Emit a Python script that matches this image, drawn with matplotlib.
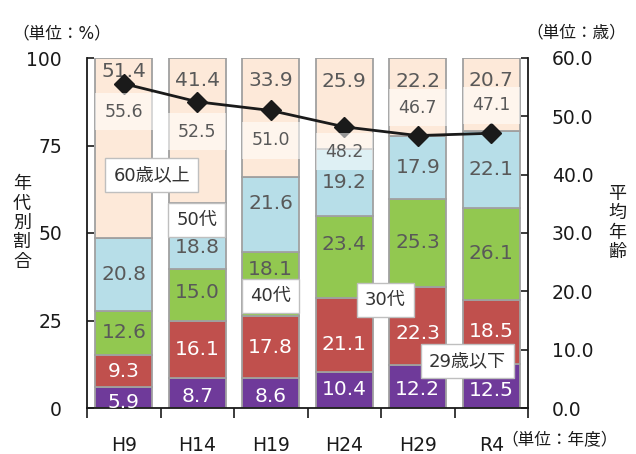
import matplotlib
matplotlib.use("Agg")
import matplotlib.pyplot as plt
import numpy as np

plt.rcParams['font.family'] = ['DejaVu Sans', 'Noto Sans CJK JP']

# ---- data -------------------------------------------------------------
years = ["H9", "H14", "H19", "H24", "H29", "R4"]
age_groups = ["29歳以下", "30代", "40代", "50代", "60歳以上"]
share_u29 = [5.9, 8.7, 8.6, 10.4, 12.2, 12.5]
share_30s = [9.3, 16.1, 17.8, 21.1, 22.3, 18.5]
share_40s = [12.6, 15.0, 18.1, 23.4, 25.3, 26.1]
share_50s = [20.8, 18.8, 21.6, 19.2, 17.9, 22.1]
share_60p = [51.4, 41.4, 33.9, 25.9, 22.2, 20.7]
avg_age = [55.6, 52.5, 51.0, 48.2, 46.7, 47.1]

series = [share_u29, share_30s, share_40s, share_50s, share_60p]
colors = ["#6F3A9A", "#C0504D", "#92C850", "#B7DEE8", "#FDE9D9"]
txt_colors = ["white", "white", "#595959", "#595959", "#595959"]

# per-label vertical nudges (pixels) so labels clear the legend boxes
nudges = [
    [-5, -4, -4, 0, -3, -4],
    [0, 0, -1, -10, -7, 0],
    [0, 2, 14, 12, 0, 0],
    [0, -12, 11, 0, 0, 0],
]
top_gap = [4, 13, 13, 14, 14, 13]          # pixels from top of bar for 60+ label
avg_offset = [-28, -30, -30, -25, 28, 28]  # pixels from marker for avg label

# ---- figure -----------------------------------------------------------
W, H = 636, 454
fig = plt.figure(figsize=(W / 100, H / 100), dpi=100)
ax = fig.add_axes([87 / W, 46 / H, 441 / W, 350 / H])
ax2 = ax.twinx()

x = np.arange(len(years))
bw = 0.78
bottom = np.zeros(len(years))
for vals, col, tcol, k in zip(series, colors, txt_colors, range(5)):
    vals = np.array(vals)
    ax.bar(x, vals, bw, bottom=bottom, color=col, edgecolor="#A0A0A0",
           linewidth=1.3, zorder=2)
    for i in range(len(years)):
        if k < 4:
            yc = bottom[i] + vals[i] / 2
            off = nudges[k][i]
        else:
            yc = 100
            off = -top_gap[i]
        ax.annotate(f"{vals[i]:.1f}", (x[i], yc), xytext=(0, off),
                    textcoords="offset pixels", ha="center",
                    va="top" if k == 4 else "center",
                    fontsize=14.5, color=tcol, zorder=5)
    bottom = bottom + vals

ax.set_xlim(-0.5, len(years) - 0.5)
ax.set_ylim(0, 100)
ax.set_yticks([0, 25, 50, 75, 100])
ax.tick_params(axis="y", direction="in", length=5, width=1.2, pad=18,
               labelsize=13.5, colors="#1A1A1A")
ax.set_xticks(x)
ax.set_xticklabels(years)
ax.tick_params(axis="x", length=0, pad=20, labelsize=13.5, colors="#1A1A1A")
ax.set_xticks(np.arange(-0.5, len(years)), minor=True)
ax.tick_params(axis="x", which="minor", direction="out", length=7, width=1.2,
               color="#1A1A1A")
for s in ["top", "right"]:
    ax.spines[s].set_visible(False)
for s in ["left", "bottom"]:
    ax.spines[s].set_linewidth(1.3)
    ax.spines[s].set_color("#1A1A1A")

# average age line on the right axis
ax2.plot(x, avg_age, color="#1A1A1A", linewidth=2, marker="D",
         markersize=10, zorder=3)
for i, v in enumerate(avg_age):
    ax2.annotate(f"{v:.1f}", (x[i], v), xytext=(0, avg_offset[i]),
                 textcoords="offset pixels", ha="center", va="center",
                 fontsize=12.5, color="#595959", zorder=4,
                 bbox=dict(boxstyle="square,pad=0.55", fc="white",
                           ec="none", alpha=0.55))
ax2.set_ylim(0, 60)
ax2.set_yticks(np.arange(0, 61, 10))
ax2.set_yticklabels([f"{t:.1f}" for t in np.arange(0, 61, 10)])
ax2.tick_params(axis="y", direction="in", length=5, width=1.2, pad=17,
                labelsize=13.5, colors="#1A1A1A")
for s in ["top", "left", "bottom"]:
    ax2.spines[s].set_visible(False)
ax2.spines["right"].set_linewidth(1.3)
ax2.spines["right"].set_color("#1A1A1A")

# series name boxes
legend_pos = [(0.862, 0.134), (0.676, 0.309), (0.417, 0.320),
              (0.249, 0.537), (0.147, 0.666)]
for name, (lx, ly) in zip(age_groups, legend_pos):
    ax2.text(lx, ly, name, transform=ax2.transAxes, ha="center",
             va="center", fontsize=13, color="#333333", zorder=6,
             bbox=dict(boxstyle="square,pad=0.45", fc="white",
                       ec="#BFBFBF", lw=1))

# unit notes and axis titles
fig.text(12 / W, 1 - 33 / H, "（単位：%）", ha="left", va="center",
         fontsize=12, color="#1A1A1A")
fig.text(526 / W, 1 - 32 / H, "（単位：歳）", ha="left", va="center",
         fontsize=12, color="#1A1A1A")
fig.text(501 / W, 1 - 440 / H, "（単位：年度）", ha="left", va="center",
         fontsize=12, color="#1A1A1A")
fig.text(22 / W, 1 - 223 / H, "\n".join("年代別割合"), ha="center",
         va="center", fontsize=13, linespacing=1.1, color="#1A1A1A")
fig.text(617 / W, 1 - 223 / H, "\n".join("平均年齢"), ha="center",
         va="center", fontsize=13, linespacing=1.1, color="#1A1A1A")

fig.savefig("out.png", dpi=100)
